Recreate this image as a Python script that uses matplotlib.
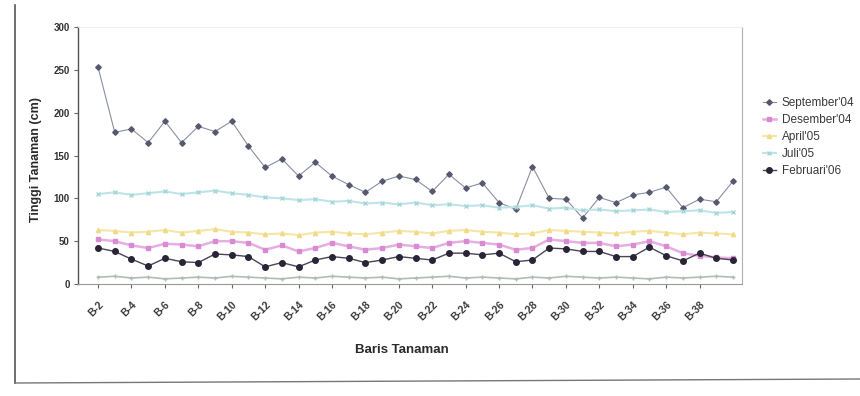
import matplotlib
matplotlib.use("Agg")
import matplotlib.pyplot as plt
from matplotlib.lines import Line2D

plt.rcParams['font.family'] = ['Liberation Sans', 'DejaVu Sans']

# Plant rows B-2 ... B-40
rows = [f"B-{i}" for i in range(2, 41)]
tick_every = 2

series_names = ["September'04", "Desember'04", "April'05", "Juli'05", "Februari'06"]

september = [253, 177, 181, 165, 190, 165, 184, 178, 190, 161, 136, 146, 126, 142, 126,
             116, 107, 120, 126, 122, 108, 128, 112, 118, 95, 87, 137, 100, 99, 77,
             101, 95, 104, 107, 113, 89, 99, 96, 120]
desember = [52, 50, 45, 42, 47, 46, 44, 50, 50, 48, 40, 45, 38, 42, 48, 44, 40, 42, 46,
            44, 42, 48, 50, 48, 46, 40, 42, 52, 50, 48, 48, 44, 46, 50, 44, 36, 33, 31, 30]
april = [63, 62, 60, 61, 63, 60, 62, 64, 61, 60, 58, 59, 57, 60, 61, 59, 58, 60, 62, 61,
         59, 62, 63, 61, 60, 58, 59, 63, 62, 61, 60, 59, 61, 62, 60, 58, 60, 59, 58]
juli = [105, 107, 104, 106, 108, 105, 107, 109, 106, 104, 101, 100, 98, 99, 96, 97, 94,
        95, 93, 95, 92, 93, 91, 92, 89, 90, 92, 88, 89, 86, 87, 85, 86, 87, 84, 85, 86, 83, 84]
februari = [42, 38, 29, 21, 30, 26, 25, 35, 34, 32, 20, 25, 20, 28, 32, 30, 25, 28, 32,
            30, 28, 36, 36, 34, 36, 26, 28, 42, 41, 38, 38, 32, 32, 43, 33, 27, 36, 30, 28]
baseline = [8, 9, 7, 8, 6, 7, 8, 7, 9, 8, 7, 6, 8, 7, 9, 8, 7, 8, 6, 7, 8, 9, 7, 8, 7,
            6, 8, 7, 9, 8, 7, 8, 7, 6, 8, 7, 8, 9, 8]

y_ticks = [0, 50, 100, 150, 200, 250, 300]

W, H = 860, 396
fig = plt.figure(figsize=(W / 100, H / 100), dpi=100)
fig.patch.set_facecolor("white")

ax = fig.add_axes([78 / W, 1 - 284 / H, (742 - 78) / W, (284 - 27) / H])
x = list(range(len(rows)))

styles = [
    (september, dict(color="#8a8da3", marker="D", ms=2.8, lw=0.8, mfc="#55586e", mec="#55586e")),
    (desember, dict(color="#e7aee2", marker="s", ms=3.0, lw=1.8, mfc="#d98ad3", mec="#d98ad3")),
    (april, dict(color="#f5e6a6", marker="^", ms=3.0, lw=1.5, mfc="#f0da88", mec="#f0da88")),
    (juli, dict(color="#bde4e6", marker="x", ms=3.0, lw=1.5, mfc="#a6d6d9", mec="#a6d6d9")),
    (februari, dict(color="#4a4458", marker="o", ms=4.0, lw=1.0, mfc="#2a2436", mec="#2a2436")),
]

ax.plot(x, baseline, color="#b0bdb1", marker="+", ms=3, lw=1.2, label="_nolegend_", zorder=2)
for (vals, st), name in zip(styles, series_names):
    ax.plot(x, vals, label=name, zorder=3, **st)

ax.set_xlim(-1.2, len(rows) - 1 + 0.54)
ax.set_ylim(0, 300)
ax.set_yticks(y_ticks)
ax.set_yticklabels([str(v) for v in y_ticks], fontsize=7, fontweight="bold", color="#333333")
ax.set_xticks(x[::tick_every][:-1])
ax.set_xticklabels(rows[::tick_every][:-1], rotation=45, ha="right",
                   rotation_mode="anchor", fontsize=7.5, fontweight="bold", color="#3a3a3a")
ax.tick_params(axis="both", length=3, width=0.8, color="#666666", pad=3)
ax.tick_params(axis="x", pad=8)

for side, col, lw in [("left", "#555555", 1.0), ("bottom", "#999999", 0.8),
                      ("right", "#b0b0b0", 0.8), ("top", "#eeeeee", 0.6)]:
    ax.spines[side].set_color(col)
    ax.spines[side].set_linewidth(lw)

fig.text(36 / W, 1 - 160 / H, "Tinggi Tanaman (cm)", rotation=90, ha="center",
         va="center", fontsize=9, fontweight="bold", color="#2a2a2a")
fig.text(402 / W, 1 - 350 / H, "Baris Tanaman", ha="center", va="center",
         fontsize=9.5, fontweight="bold", color="#2a2a2a")

leg = ax.legend(loc="upper left", bbox_to_anchor=(763 / W, 1 - 97 / H),
                bbox_transform=fig.transFigure, frameon=False, fontsize=8.5,
                handlelength=1.1, handletextpad=0.5, labelspacing=0.42,
                borderaxespad=0, borderpad=0)
for t in leg.get_texts():
    t.set_color("#3a3a3a")

# outer chart frame (left and bottom edges)
fig.add_artist(Line2D([15 / W, 15 / W], [1 - 5 / H, 1 - 383 / H],
                      transform=fig.transFigure, color="#555555", lw=1.2))
fig.add_artist(Line2D([15 / W, 1.0], [1 - 383 / H, 1 - 379 / H],
                      transform=fig.transFigure, color="#777777", lw=1.0))

fig.savefig("out.png", dpi=100)
